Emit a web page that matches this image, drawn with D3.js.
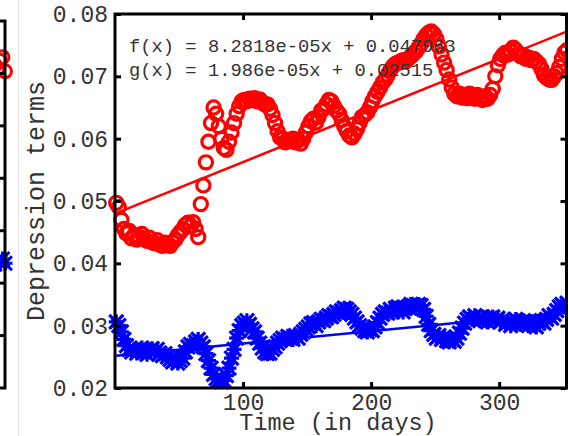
<!DOCTYPE html>
<html>
<head>
<meta charset="utf-8">
<script src="https://cdn.jsdelivr.net/npm/d3@7"></script>
<style>
  html, body { margin: 0; padding: 0; background: #fff; }
  svg { display: block; font-family: "Liberation Mono", "Courier New", monospace; }
</style>
</head>
<body>
<svg id="chart"></svg>
<script>
const width = 568;
const height = 436;

// ---- data (every second day) ----
const days = d3.range(1, 354, 2);

const redValues = [
  0.0497, 0.0490, 0.0470, 0.0455, 0.0448, 0.0452, 0.0440, 0.0445, 0.0438, 0.0442,
  0.0447, 0.0440, 0.0436, 0.0441, 0.0434, 0.0432, 0.0437, 0.0430, 0.0428, 0.0433,
  0.0431, 0.0428, 0.0434, 0.0438, 0.0445, 0.0450, 0.0455, 0.0462, 0.0465, 0.0460,
  0.0466, 0.0455, 0.0442, 0.0495, 0.0525, 0.0562, 0.0595, 0.0625, 0.0650, 0.0640,
  0.0620, 0.0600, 0.0585, 0.0582, 0.0595, 0.0610, 0.0625, 0.0640, 0.0652, 0.0660,
  0.0662, 0.0660, 0.0664, 0.0662, 0.0665, 0.0660, 0.0663, 0.0658, 0.0655, 0.0655,
  0.0648, 0.0638, 0.0625, 0.0612, 0.0602, 0.0600, 0.0594, 0.0598, 0.0596, 0.0600,
  0.0594, 0.0598, 0.0592, 0.0600, 0.0610, 0.0620, 0.0628, 0.0632, 0.0626, 0.0635,
  0.0645, 0.0648, 0.0655, 0.0662, 0.0660, 0.0652, 0.0645, 0.0640, 0.0630, 0.0620,
  0.0612, 0.0605, 0.0602, 0.0608, 0.0615, 0.0625, 0.0635, 0.0638, 0.0642, 0.0650,
  0.0660, 0.0668, 0.0675, 0.0682, 0.0690, 0.0695, 0.0702, 0.0710, 0.0716, 0.0720,
  0.0722, 0.0724, 0.0726, 0.0724, 0.0728, 0.0732, 0.0736, 0.0740, 0.0746, 0.0752,
  0.0760, 0.0766, 0.0770, 0.0772, 0.0768, 0.0760, 0.0748, 0.0735, 0.0722, 0.0710,
  0.0695, 0.0682, 0.0672, 0.0668, 0.0672, 0.0666, 0.0670, 0.0665, 0.0672, 0.0668,
  0.0664, 0.0670, 0.0666, 0.0662, 0.0668, 0.0664, 0.0670, 0.0680, 0.0700, 0.0718,
  0.0728, 0.0734, 0.0738, 0.0735, 0.0740, 0.0746, 0.0742, 0.0736, 0.0732, 0.0734,
  0.0728, 0.0730, 0.0726, 0.0728, 0.0724, 0.0720, 0.0712, 0.0702, 0.0698, 0.0695,
  0.0694, 0.0700, 0.0705, 0.0715, 0.0728, 0.0738, 0.0742
];

const blueValues = [
  0.0306, 0.0300, 0.0290, 0.0278, 0.0268, 0.0262, 0.0258, 0.0262, 0.0256, 0.0260,
  0.0264, 0.0258, 0.0254, 0.0260, 0.0263, 0.0258, 0.0262, 0.0256, 0.0252, 0.0255,
  0.0250, 0.0246, 0.0242, 0.0245, 0.0240, 0.0244, 0.0248, 0.0258, 0.0266, 0.0270,
  0.0268, 0.0274, 0.0278, 0.0272, 0.0266, 0.0255, 0.0244, 0.0232, 0.0222, 0.0215,
  0.0212, 0.0210, 0.0212, 0.0220, 0.0232, 0.0248, 0.0262, 0.0280, 0.0292, 0.0300,
  0.0304, 0.0308, 0.0302, 0.0295, 0.0290, 0.0280, 0.0272, 0.0264, 0.0258, 0.0255,
  0.0256, 0.0262, 0.0266, 0.0272, 0.0276, 0.0280, 0.0278, 0.0283, 0.0280, 0.0278,
  0.0284, 0.0280, 0.0286, 0.0290, 0.0294, 0.0298, 0.0303, 0.0305, 0.0300, 0.0306,
  0.0310, 0.0308, 0.0312, 0.0316, 0.0314, 0.0318, 0.0322, 0.0320, 0.0324, 0.0328,
  0.0326, 0.0322, 0.0318, 0.0312, 0.0306, 0.0300, 0.0296, 0.0292, 0.0290, 0.0294,
  0.0292, 0.0298, 0.0305, 0.0312, 0.0318, 0.0322, 0.0320, 0.0326, 0.0322, 0.0328,
  0.0330, 0.0326, 0.0322, 0.0328, 0.0330, 0.0334, 0.0332, 0.0328, 0.0334, 0.0332,
  0.0326, 0.0315, 0.0302, 0.0292, 0.0286, 0.0280, 0.0284, 0.0278, 0.0282, 0.0276,
  0.0274, 0.0278, 0.0275, 0.0280, 0.0288, 0.0296, 0.0304, 0.0310, 0.0314, 0.0310,
  0.0316, 0.0312, 0.0308, 0.0314, 0.0310, 0.0306, 0.0312, 0.0314, 0.0308, 0.0312,
  0.0306, 0.0310, 0.0302, 0.0306, 0.0300, 0.0304, 0.0310, 0.0306, 0.0302, 0.0308,
  0.0304, 0.0300, 0.0306, 0.0302, 0.0298, 0.0304, 0.0308, 0.0304, 0.0310, 0.0316,
  0.0312, 0.0318, 0.0324, 0.0330, 0.0334, 0.0330, 0.0336
];

// linear fits printed on the chart
const fitNames = ["f(x)", "g(x)"];
const fitSlopes = [8.2818e-05, 1.986e-05];
const fitIntercepts = [0.047963, 0.02515];
const fitLabels = ["8.2818e-05", "1.986e-05"];
const fitLabelIntercepts = ["0.047963", "0.02515"];

const xTicks = [100, 200, 300];
const yTicks = [0.02, 0.03, 0.04, 0.05, 0.06, 0.07, 0.08];

// neighbouring panel, only its right edge is visible
const leftDays = [345, 347, 349, 351, 353];
const leftRed = [0.0716, 0.0708, 0.0724, 0.0731, 0.0704];
const leftBlue = [0.0336, 0.0344, 0.0340, 0.0346, 0.0338];
const leftTicks = [0.02, 0.03, 0.04, 0.05, 0.06, 0.07];

const red = "#ff0000";
const blue = "#0000ff";
const ink = "#333";
const crossPath = "M-7,-7L7,7M-7,7L7,-7M0,-7.5L0,7.5M-7.5,0L7.5,0";

const svg = d3.select("#chart")
    .attr("width", width)
    .attr("height", height);

// ---- left partial panel ----
const lx = d3.scaleLinear().domain([0, 353]).range([-446, 5]);
const ly = d3.scaleLinear().domain([0.01, 0.08]).range([388, 21]);

const leftG = svg.append("g");

leftG.selectAll("circle")
    .data(leftDays)
    .join("circle")
    .attr("cx", d => lx(d))
    .attr("cy", (d, i) => ly(leftRed[i]))
    .attr("r", 6.5)
    .attr("fill", "none")
    .attr("stroke", red)
    .attr("stroke-width", 3);

leftG.selectAll("path.lx")
    .data(leftDays)
    .join("path")
    .attr("class", "lx")
    .attr("transform", (d, i) => `translate(${lx(d)},${ly(leftBlue[i])})`)
    .attr("d", crossPath)
    .attr("stroke", blue)
    .attr("stroke-width", 3);

leftG.append("path")
    .attr("d", `M-5,${ly(0.08)}H5V${ly(0.01)}H-5`)
    .attr("fill", "none")
    .attr("stroke", "#000")
    .attr("stroke-width", 3);

leftG.selectAll("line.lt")
    .data(leftTicks)
    .join("line")
    .attr("class", "lt")
    .attr("x1", 5).attr("x2", 0)
    .attr("y1", d => ly(d)).attr("y2", d => ly(d))
    .attr("stroke", "#000")
    .attr("stroke-width", 3);

// faint separator between figures
svg.append("line")
    .attr("x1", 18.5).attr("x2", 18.5)
    .attr("y1", 0).attr("y2", height)
    .attr("stroke", "#e4e4e4")
    .attr("stroke-width", 1);

// ---- main panel ----
const margin = {left: 115, top: 14, right: 1.5, bottom: 48};
const plotW = width - margin.left - margin.right;
const plotH = height - margin.top - margin.bottom;

const x = d3.scaleLinear().domain([0, 352.6]).range([margin.left, margin.left + plotW]);
const y = d3.scaleLinear().domain([0.02, 0.08]).range([margin.top + plotH, margin.top]);

const g = svg.append("g");

// red circles
g.append("g").selectAll("circle")
    .data(days)
    .join("circle")
    .attr("cx", d => x(d))
    .attr("cy", (d, i) => y(redValues[i]))
    .attr("r", 6.6)
    .attr("fill", "none")
    .attr("stroke", red)
    .attr("stroke-width", 3.2);

// blue crosses
g.append("g").selectAll("path")
    .data(days)
    .join("path")
    .attr("transform", (d, i) => `translate(${x(d)},${y(blueValues[i])})`)
    .attr("d", crossPath)
    .attr("stroke", blue)
    .attr("stroke-width", 3.2);

// fit lines
const fitColors = [red, blue];
const xDomain = [1, 352.6];
fitSlopes.forEach((m, k) => {
    const line = d3.line()
        .x(d => x(d))
        .y(d => y(m * d + fitIntercepts[k]));
    g.append("path")
        .attr("d", line(xDomain))
        .attr("fill", "none")
        .attr("stroke", fitColors[k])
        .attr("stroke-width", 2.5);
});

// axes
const yAxisL = d3.axisLeft(y).tickValues(yTicks).tickSize(-6).tickPadding(7)
    .tickFormat(d3.format(".2f"));
const yAxisR = d3.axisRight(y).tickValues(yTicks).tickSize(-6).tickFormat("");
const xAxisB = d3.axisBottom(x).tickValues(xTicks).tickSize(-6).tickPadding(6);
const xAxisT = d3.axisTop(x).tickValues(xTicks).tickSize(-6).tickFormat("");

const styleAxis = sel => {
    sel.select(".domain").remove();
    sel.selectAll(".tick line").attr("stroke", "#000").attr("stroke-width", 3);
    sel.selectAll(".tick text").attr("fill", ink).style("font-size", "23px")
        .style("font-family", "'Liberation Mono', 'Courier New', monospace");
};

svg.append("g").attr("transform", `translate(${margin.left},0)`).call(yAxisL).call(styleAxis);
svg.append("g").attr("transform", `translate(${margin.left + plotW},0)`).call(yAxisR).call(styleAxis);
svg.append("g").attr("transform", `translate(0,${margin.top + plotH})`).call(xAxisB).call(styleAxis);
svg.append("g").attr("transform", `translate(0,${margin.top})`).call(xAxisT).call(styleAxis);

// frame
svg.append("rect")
    .attr("x", margin.left)
    .attr("y", margin.top)
    .attr("width", plotW)
    .attr("height", plotH)
    .attr("fill", "none")
    .attr("stroke", "#000")
    .attr("stroke-width", 3);

// fit equations
fitNames.forEach((name, k) => {
    svg.append("text")
        .attr("x", 129)
        .attr("y", 52 + k * 24)
        .attr("fill", ink)
        .style("font-size", "18.8px")
        .style("white-space", "pre")
        .text(`${name} = ${fitLabels[k]}x + ${fitLabelIntercepts[k]}`);
});

// axis titles
svg.append("text")
    .attr("transform", `translate(44,${(margin.top + margin.top + plotH) / 2}) rotate(-90)`)
    .attr("text-anchor", "middle")
    .attr("fill", ink)
    .style("font-size", "25px")
    .text("Depression terms");

svg.append("text")
    .attr("x", 338)
    .attr("y", 430)
    .attr("text-anchor", "middle")
    .attr("fill", ink)
    .style("font-size", "23.5px")
    .text("Time (in days)");
</script>
</body>
</html>
